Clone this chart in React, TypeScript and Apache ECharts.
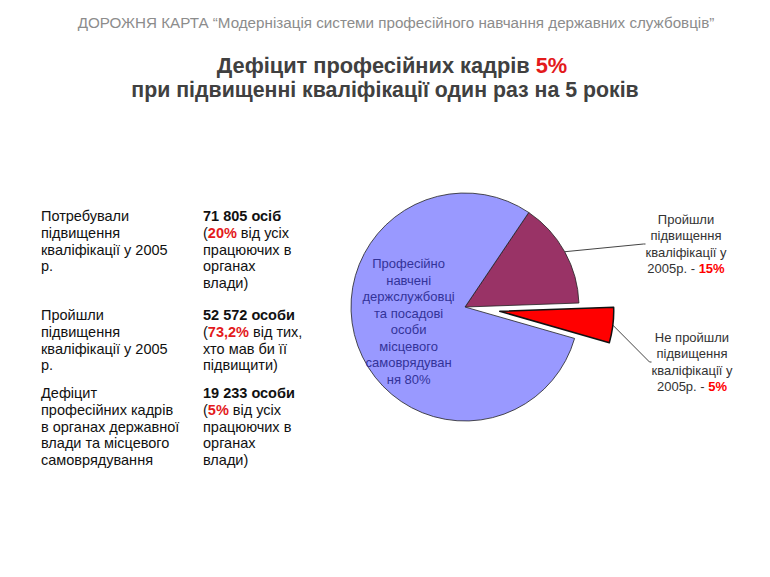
import React, { useEffect, useRef } from "react";
import * as echarts from "echarts";

const headerText = "ДОРОЖНЯ КАРТА “Модернізація системи професійного навчання державних службовців”";
const titleLine1 = "Дефіцит професійних кадрів ";
const titleAccent = "5%";
const titleLine2 = "при підвищенні кваліфікації один раз на 5 років";

const rowLabels = [
  "Потребували\nпідвищення\nкваліфікації у 2005\nр.",
  "Пройшли\nпідвищення\nкваліфікації у 2005\nр.",
  "Дефіцит\nпрофесійних кадрів\nв органах державної\nвлади та місцевого\nсамоврядування",
];
const rowCounts = ["71 805 осіб", "52 572 особи", "19 233 особи"];
const rowPercents = ["20%", "73,2%", "5%"];
const rowTails = [
  " від усіх\nпрацюючих в\nорганах\nвлади)",
  " від тих,\nхто мав би її\nпідвищити)",
  " від усіх\nпрацюючих в\nорганах\nвлади)",
];

const sliceNames = [
  "Пройшли\nпідвищення\nкваліфікації у\n2005р. - ",
  "Не пройшли\nпідвищення\nкваліфікації у\n2005р. - ",
  "Професійно\nнавчені\nдержслужбовці\nта посадові\nособи\nмісцевого\nсамоврядуван\nня ",
];
const sliceValues = [15, 5, 80];
const sliceColors = ["#993366", "#FF0000", "#9999FF"];
const explodedIndex = 1;

export default function App() {
  const ref = useRef<HTMLDivElement>(null);
  useEffect(() => {
    document.body.style.margin = "0";
    const chart = echarts.init(ref.current!, null, { renderer: "svg" });
    const rowTops = [208, 307, 385];
    const font = "'Liberation Sans', Arial, sans-serif";
    const fs = 14.5;
    const lh = 16.7;
    const graphics: any[] = [
      {
        type: "text",
        x: 396,
        y: 22,
        style: {
          text: headerText,
          fontFamily: font,
          fontSize: 15.2,
          fill: "#8c8c8c",
          align: "center",
          verticalAlign: "middle",
        },
      },
      {
        type: "text",
        x: 392,
        y: 65,
        style: {
          text: titleLine1 + "{r|" + titleAccent + "}",
          fontFamily: font,
          fontSize: 21.8,
          fontWeight: "bold",
          fill: "#404040",
          align: "center",
          verticalAlign: "middle",
          rich: { r: { fill: "#E31A1C", fontFamily: font, fontSize: 21.8, fontWeight: "bold" } },
        },
      },
      {
        type: "text",
        x: 385,
        y: 90,
        style: {
          text: titleLine2,
          fontFamily: font,
          fontSize: 21.3,
          fontWeight: "bold",
          fill: "#404040",
          align: "center",
          verticalAlign: "middle",
        },
      },
    ];
    rowLabels.forEach((lab, i) => {
      graphics.push({
        type: "text",
        x: 41,
        y: rowTops[i],
        style: {
          text: lab,
          fontFamily: font,
          fontSize: fs,
          lineHeight: lh,
          fill: "#111",
          align: "left",
          verticalAlign: "top",
        },
      });
      graphics.push({
        type: "text",
        x: 203,
        y: rowTops[i],
        style: {
          text: "{b|" + rowCounts[i] + "}\n({r|" + rowPercents[i] + "}" + rowTails[i],
          fontFamily: font,
          fontSize: fs,
          lineHeight: lh,
          fill: "#111",
          align: "left",
          verticalAlign: "top",
          rich: {
            b: { fontWeight: "bold", fontFamily: font, fontSize: fs, lineHeight: lh, fill: "#111" },
            r: { fontWeight: "bold", fontFamily: font, fontSize: fs, lineHeight: lh, fill: "#E31A1C" },
          },
        },
      });
    });

    const center: [number, number] = [465, 307];
    const radius = 114;
    const startAngle = 56;
    const explode = 35;
    const total = sliceValues.reduce((a, b) => a + b, 0);
    const before = sliceValues.slice(0, explodedIndex).reduce((a, b) => a + b, 0);
    const midDeg = startAngle - ((before + sliceValues[explodedIndex] / 2) / total) * 360;
    const midRad = (midDeg * Math.PI) / 180;
    const explodedCenter: [number, number] = [
      center[0] + explode * Math.cos(midRad),
      center[1] - explode * Math.sin(midRad),
    ];

    const labelPos: Record<number, [number, number]> = { 0: [686, 244], 1: [692, 362] };
    const labelBase = {
      show: true,
      fontFamily: font,
      fontSize: 13,
      lineHeight: 16.5,
      color: "#333",
      formatter: (p: any) =>
        p.dataIndex === 2
          ? sliceNames[2] + p.value + "%"
          : sliceNames[p.dataIndex] + "{r|" + p.value + "%}",
      rich: { r: { color: "#FF0000", fontWeight: "bold", fontFamily: font, fontSize: 13, lineHeight: 16.5 } },
    };
    const layoutFn = (p: any) => {
      const pos = labelPos[p.dataIndex];
      if (!pos) return { dy: -6 };
      return { x: pos[0], y: pos[1], align: "center", verticalAlign: "middle" };
    };
    const hidden = { color: "rgba(0,0,0,0)", borderWidth: 0 };
    const lineCfg = { show: true, length: 2, length2: 2, lineStyle: { color: "#444", width: 1 } };

    chart.setOption({
      animation: false,
      backgroundColor: "#ffffff",
      graphic: graphics,
      series: [
        {
          type: "pie",
          center,
          radius,
          startAngle,
          clockwise: true,
          silent: true,
          avoidLabelOverlap: false,
          label: labelBase,
          labelLine: lineCfg,
          labelLayout: layoutFn,
          data: sliceValues.map((v, i) => ({
            value: v,
            name: "s" + i,
            itemStyle:
              i === explodedIndex ? hidden : { color: sliceColors[i], borderColor: "#222", borderWidth: 0.8 },
            label:
              i === explodedIndex
                ? { show: false }
                : i === 2
                ? { position: "inside", color: "#333399", fontSize: 13, lineHeight: 16.5 }
                : { position: "outside" },
            labelLine: i === 0 ? { show: true } : { show: false },
          })),
        },
        {
          type: "pie",
          center: explodedCenter,
          radius,
          startAngle,
          clockwise: true,
          silent: true,
          avoidLabelOverlap: false,
          label: labelBase,
          labelLine: lineCfg,
          labelLayout: layoutFn,
          data: sliceValues.map((v, i) => ({
            value: v,
            name: "s" + i,
            itemStyle:
              i === explodedIndex ? { color: sliceColors[i], borderColor: "#111", borderWidth: 1.5 } : hidden,
            label: i === explodedIndex ? { position: "outside" } : { show: false },
            labelLine: i === explodedIndex ? { show: true } : { show: false },
          })),
        },
      ],
    });
    return () => chart.dispose();
  }, []);
  return <div ref={ref} style={{ width: 770, height: 577 }} />;
}
